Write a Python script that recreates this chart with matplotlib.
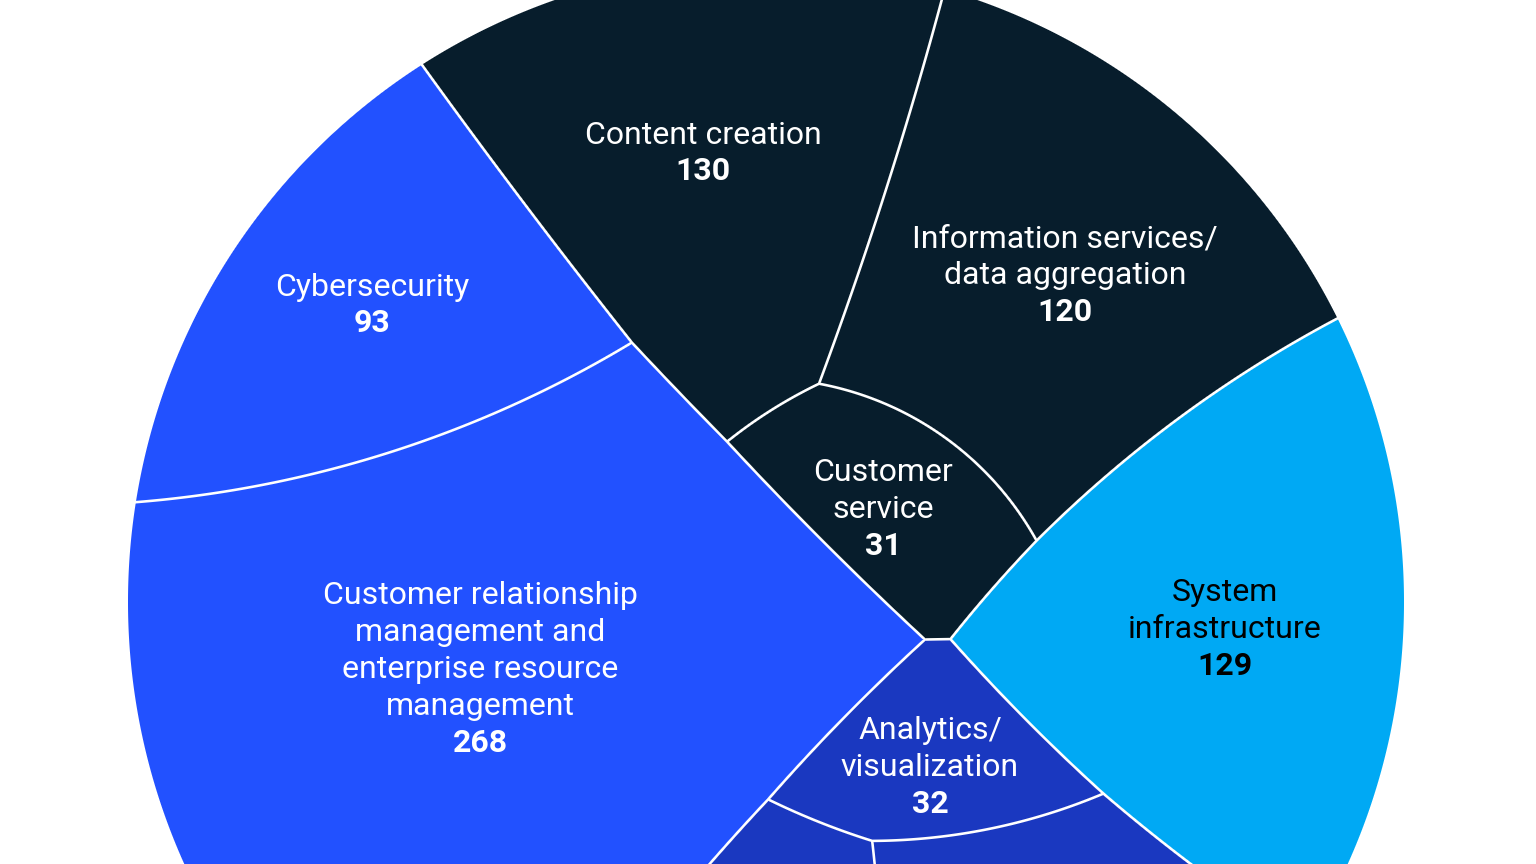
import numpy as np
import matplotlib
matplotlib.use("Agg")
import matplotlib.pyplot as plt
from matplotlib.colors import to_rgb

W, H = 1536, 864

# --- data ---
categories = ["Content creation", "Information services/\ndata aggregation", "Customer\nservice",
              "System\ninfrastructure", "Cybersecurity",
              "Customer relationship\nmanagement and\nenterprise resource\nmanagement",
              "Analytics/\nvisualization"]
values = [130, 120, 31, 129, 93, 268, 32]
groups = ["navy", "navy", "navy", "cyan", "blue", "blue", "indigo"]
# two more cells of the indigo group sit below the frame; their labels are cropped out
hidden_groups = ["indigo", "indigo"]

group_colors = {"navy": "#071d2c", "cyan": "#00a9f4", "blue": "#2251ff", "indigo": "#1a38c0"}
text_colors = ["white", "white", "white", "black", "white", "white", "white"]

# --- layout: weighted voronoi seeds (pixel space), one per cell incl. the hidden ones ---
site_x = [860.3, 868.6, 865.2, 1180.8, 499.5, 515.9, 882.3, 877.9, 882.6]
site_y = [258.2, 261.0, 274.7, 606.1, 550.5, 593.1, 911.7, 927.9, 927.6]
site_lam = [1.0, 0.998, 1.0307, 1.4162, 0.9399, 0.9071, 1.1428, 1.1194, 1.1164]
site_mu = [0.0, 24.0, -3011.2, -70695.9, -2167.3, 9863.2, -57137.3, -54472.9, -54469.2]
label_xy = [(703, 151), (1065, 273), (883, 507), (1225, 627), (372, 303), (480, 667), (930, 765)]
circle_cx, circle_cy, circle_r = 766.0, 602.0, 638.0
line_w = 2.6


def cell_image():
    sx, sy = np.array(site_x), np.array(site_y)
    lam, mu = np.array(site_lam), np.array(site_mu)
    xx, yy = np.meshgrid(np.arange(W) + 0.5, np.arange(H) + 0.5)
    F = np.stack([lam[i] * ((xx - sx[i]) ** 2 + (yy - sy[i]) ** 2) - mu[i] for i in range(len(sx))])
    own = np.argmin(F, axis=0)
    f1 = F.min(axis=0)
    gx1 = 2 * lam[own] * (xx - sx[own])
    gy1 = 2 * lam[own] * (yy - sy[own])
    # distance to the nearest cell edge, for the white separators
    dist = np.full((H, W), np.inf)
    for k in range(len(sx)):
        gx = 2 * lam[k] * (xx - sx[k]) - gx1
        gy = 2 * lam[k] * (yy - sy[k]) - gy1
        d = (F[k] - f1) / (np.hypot(gx, gy) + 1e-9)
        d[own == k] = np.inf
        dist = np.minimum(dist, d)
    a_line = np.clip(line_w / 2 + 0.5 - dist, 0, 1)[..., None]
    a_in = np.clip(circle_r - np.hypot(xx - circle_cx, yy - circle_cy) + 0.5, 0, 1)[..., None]
    pal = np.array([to_rgb(group_colors[g]) for g in groups + hidden_groups])
    rgb = pal[own] * (1 - a_line) + a_line
    return rgb * a_in + (1 - a_in)


fig = plt.figure(figsize=(W / 100, H / 100), dpi=100)
ax = fig.add_axes([0, 0, 1, 1])
ax.imshow(cell_image(), extent=(0, W, H, 0), interpolation="nearest")
ax.set_xlim(0, W)
ax.set_ylim(H, 0)
ax.axis("off")

line_h = 37
for name, val, (lx, ly), col in zip(categories, values, label_xy, text_colors):
    lines = name.split("\n") + [str(val)]
    n = len(lines)
    for k, line in enumerate(lines):
        yc = ly + (k - (n - 1) / 2) * line_h
        ax.text(lx, yc + 11, line, ha="center", va="baseline", fontsize=23, color=col,
                family="Roboto", weight="bold" if k == n - 1 else "normal")

fig.savefig("out.png", dpi=100)
